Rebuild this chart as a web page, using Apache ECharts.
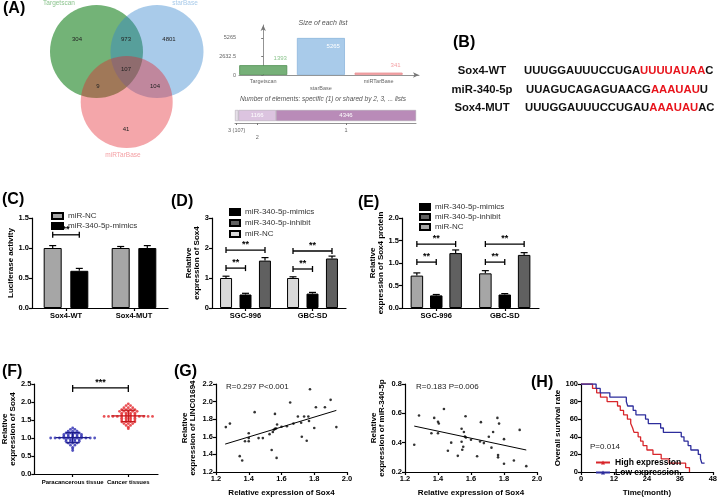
<!DOCTYPE html>
<html><head><meta charset="utf-8">
<script src="https://cdn.jsdelivr.net/npm/echarts@6/dist/echarts.min.js"></script>
<style>html,body{margin:0;padding:0;background:#fff}#c{width:720px;height:498px}</style>
</head><body><div id="c"></div>
<script>
// ================= DATA =================
// (A) Venn + list sizes
const vennSets = ['Targetscan', 'starBase', 'miRTarBase'];
const vennRegions = ['304', '973', '4801', '107', '9', '104', '41'];
const listSizes = [1393, 5265, 341];
const listTicks = [0, 2632.5, 5265];
const sharedLabels = ['3 (107)', '2', '1'];
const sharedCounts = [107, 1166, 4346];
// (B) sequences
const seqNames = ['Sox4-WT', 'miR-340-5p', 'Sox4-MUT'];
const seqHead = ['UUUGGAUUUCCUGA', 'UUAGUCAGAGUAACG', 'UUUGGAUUUCCUGAU'];
const seqSite = ['UUUUAUAA', 'AAAUAU', 'AAAUAU'];
const seqTail = ['C', 'U', 'AC'];
// (C) luciferase
const cCats = ['Sox4-WT', 'Sox4-MUT'];
const cNC = [1.00, 1.00], cNCerr = [0.04, 0.025];
const cMimic = [0.62, 1.00], cMimicErr = [0.04, 0.04];
const cBrackets = [[0, 0, 1, 1.22, '**']];
// (D) mRNA
const dCats = ['SGC-996', 'GBC-SD'];
const dNC = [1.00, 1.00], dNCerr = [0.06, 0.04];
const dMimic = [0.45, 0.48], dMimicErr = [0.04, 0.04];
const dInhibit = [1.58, 1.65], dInhibitErr = [0.10, 0.08];
const dBrackets = [[0, 0, 1, 1.33, '**'], [0, 0, 2, 1.93, '**'], [1, 0, 1, 1.30, '**'], [1, 0, 2, 1.90, '**']];
// (E) protein
const eNC = [0.72, 0.77], eNCerr = [0.06, 0.06];
const eMimic = [0.28, 0.30], eMimicErr = [0.02, 0.02];
const eInhibit = [1.22, 1.18], eInhibitErr = [0.07, 0.05];
const eBrackets = [[0, 0, 1, 1.02, '**'], [0, 0, 2, 1.42, '**'], [1, 0, 1, 1.02, '**'], [1, 0, 2, 1.42, '**']];
// (F) tissues
const fCats = ['Paracancerous tissue', 'Cancer tissues'];
const fPara = [1.28, 1.24, 1.24, 1.19, 1.19, 1.19, 1.14, 1.14, 1.14, 1.14, 1.10, 1.10, 1.10, 1.10, 1.10,
  1.05, 1.05, 1.05, 1.05, 1.05, 1.00, 1.00, 1.00, 1.00, 1.00, 1.00, 1.00, 1.00, 1.00, 1.00, 1.00,
  0.96, 0.96, 0.96, 0.96, 0.91, 0.91, 0.91, 0.91, 0.86, 0.86, 0.86, 0.80, 0.80, 0.74, 0.70, 0.65];
const fCancer = [1.95, 1.90, 1.90, 1.84, 1.84, 1.84, 1.79, 1.79, 1.79, 1.79, 1.74, 1.74, 1.74, 1.74, 1.74,
  1.69, 1.69, 1.69, 1.69, 1.64, 1.64, 1.64, 1.64, 1.60, 1.60, 1.60, 1.60, 1.60, 1.60, 1.60, 1.60, 1.60, 1.60, 1.60, 1.60,
  1.55, 1.55, 1.55, 1.55, 1.50, 1.50, 1.50, 1.50, 1.45, 1.45, 1.45, 1.45, 1.40, 1.40, 1.40, 1.35, 1.35, 1.30, 1.26];
const fBracket = [[0, 1, 2.39, '***']];
// (G) correlations
const g1Pts = [[1.26,1.71],[1.285,1.75],[1.345,1.38],[1.36,1.33],[1.377,1.55],[1.40,1.55],[1.40,1.585],[1.40,1.64],
  [1.436,1.88],[1.46,1.585],[1.486,1.585],[1.527,1.63],[1.54,1.45],[1.547,1.655],[1.553,1.68],[1.56,1.69],[1.56,1.86],
  [1.567,1.695],[1.57,1.36],[1.573,1.74],[1.60,1.715],[1.633,1.72],[1.653,1.99],[1.673,1.75],[1.70,1.83],[1.72,1.76],
  [1.724,1.60],[1.738,1.83],[1.754,1.555],[1.764,1.83],[1.768,1.78],[1.774,2.14],[1.80,1.70],[1.81,1.935],[1.865,1.935],
  [1.90,2.02],[1.935,1.71]];
const g1Fit = [[1.256, 1.517], [1.935, 1.90]];
const g2Pts = [[1.256,0.386],[1.285,0.585],[1.377,0.569],[1.36,0.464],[1.40,0.543],[1.405,0.531],[1.40,0.464],[1.436,0.63],
  [1.48,0.40],[1.46,0.345],[1.52,0.31],[1.543,0.495],[1.543,0.406],[1.547,0.352],[1.553,0.372],[1.557,0.473],[1.567,0.58],
  [1.563,0.442],[1.569,0.435],[1.60,0.42],[1.637,0.307],[1.655,0.408],[1.66,0.54],[1.678,0.397],[1.708,0.44],[1.724,0.366],
  [1.734,0.473],[1.76,0.569],[1.77,0.53],[1.764,0.316],[1.764,0.30],[1.80,0.424],[1.80,0.256],[1.86,0.278],[1.895,0.487],[1.935,0.24]];
const g2Fit = [[1.256, 0.513], [1.935, 0.35]];
// (H) survival
const hHigh = [[0,100],[4.2,95],[5.7,90],[7.1,85],[9.5,80],[13.3,75],[14.3,70],[15.5,65],[16.9,60],[18.1,55],[18.8,50],
  [19.3,45],[20.8,40],[21.7,35],[22.6,30],[24,25],[26.2,20],[29.2,15],[32.1,10],[38.1,5],[39.5,0]];
const hLow = [[0,100],[5.5,95],[7,90],[10.5,85],[16.5,80],[17,75],[19,70],[20,65],[23.5,60],[24.5,55],[29,50],[30,45],
  [36.5,40],[37.5,35],[39,30],[40,25],[42.7,20],[43.5,15],[44,10],[45,10]];

// ================= STYLE / LAYOUT =================
const FONT = '"Liberation Sans", Arial, sans-serif';
const BLACK = '#000';
const lab = (o) => Object.assign({color: BLACK, fontSize: 7.5, fontWeight: 'bold', fontFamily: FONT, margin: 3}, o || {});
const axLine = {show: true, lineStyle: {color: BLACK, width: 1.2}};
const axTick = {show: true, length: 3, lineStyle: {color: BLACK, width: 1.2}};
const fmt1 = v => Number(v).toFixed(1);
const strip = n => n.replace(/\u200b/g, '');

const grids = [
  {left: 0, top: 0, width: 210, height: 160},      // 0 venn
  {left: 239, top: 25, width: 180, height: 50},    // 1 list sizes
  {left: 235, top: 110, width: 181, height: 11},   // 2 shared
  {left: 32, top: 218, width: 136, height: 90},    // 3 C
  {left: 212, top: 218, width: 134, height: 90},   // 4 D
  {left: 402, top: 218, width: 137, height: 90},   // 5 E
  {left: 32, top: 384, width: 126, height: 90},    // 6 F
  {left: 216, top: 384, width: 131, height: 89},   // 7 G1
  {left: 405, top: 384, width: 132, height: 89},   // 8 G2
  {left: 581, top: 384, width: 135, height: 90}    // 9 H
];

function valY(gi, min, max, interval, formatter, name, gap) {
  return {type: 'value', gridIndex: gi, min, max, interval, axisLine: axLine, axisTick: axTick,
    splitLine: {show: false}, axisLabel: lab({formatter}),
    name, nameLocation: 'middle', nameRotate: 90, nameGap: gap,
    nameTextStyle: {color: BLACK, fontSize: 8, fontWeight: 'bold', fontFamily: FONT, lineHeight: 8}};
}
function catX(gi, cats) {
  return {type: 'category', gridIndex: gi, data: cats, axisLine: axLine,
    axisTick: {show: true, length: 3, alignWithLabel: true, lineStyle: {color: BLACK, width: 1.2}},
    axisLabel: lab({margin: 4})};
}

// --- custom render helpers
function errSeries(xi, means, errs, offset) {
  return {type: 'custom', xAxisIndex: xi, yAxisIndex: xi, z: 5, silent: true,
    data: means.map((m, i) => [i, m, errs[i]]),
    renderItem: (p, api) => {
      const c = api.value(0), m = api.value(1), e = api.value(2);
      const p0 = api.coord([c, m]), p1 = api.coord([c, m + e]);
      const x = p0[0] + offset, cw = 3.5;
      return {type: 'group', children: [
        {type: 'line', shape: {x1: x, y1: p0[1], x2: x, y2: p1[1]}, style: {stroke: BLACK, lineWidth: 1.2}},
        {type: 'line', shape: {x1: x - cw, y1: p1[1], x2: x + cw, y2: p1[1]}, style: {stroke: BLACK, lineWidth: 1.2}}
      ]};
    }};
}
function bracketSeries(xi, items, pitch, nBars) {
  return {type: 'custom', xAxisIndex: xi, yAxisIndex: xi, z: 6, silent: true,
    data: items.map(b => [b[0], b[3], b[1], b[2]]),
    renderItem: (p, api) => {
      const c = api.value(0), y = api.value(1), a = api.value(2), b = api.value(3);
      const pt = api.coord([c, y]);
      const xa = pt[0] + (a - (nBars - 1) / 2) * pitch, xb = pt[0] + (b - (nBars - 1) / 2) * pitch;
      const st = {stroke: BLACK, lineWidth: 1.3};
      return {type: 'group', children: [
        {type: 'line', shape: {x1: xa, y1: pt[1], x2: xb, y2: pt[1]}, style: st},
        {type: 'line', shape: {x1: xa, y1: pt[1] - 3, x2: xa, y2: pt[1] + 3}, style: st},
        {type: 'line', shape: {x1: xb, y1: pt[1] - 3, x2: xb, y2: pt[1] + 3}, style: st},
        {type: 'text', x: (xa + xb) / 2, y: pt[1] - 1, style: {text: items[p.dataIndex][4], align: 'center', verticalAlign: 'bottom',
          fill: BLACK, font: 'bold 9px ' + FONT}}
      ]};
    }};
}
function barS(xi, name, data, color, bw, gapPct) {
  return {type: 'bar', name, xAxisIndex: xi, yAxisIndex: xi, data, barWidth: bw, barGap: gapPct,
    itemStyle: {color, borderColor: BLACK, borderWidth: 1}};
}

// ---- Venn layout (hidden px-like axes)
const vennCircles = [[96.5, 51.5, 46.5], [157, 51.5, 46.5], [126.7, 102, 46]];
const vennFills = ['rgb(115,179,119)', 'rgba(50,131,205,0.42)', 'rgba(228,33,43,0.40)'];
const vennNamePos = [[59, 3], [185, 3], [123, 155]];
const vennNameColors = ['#8cc48e', '#a9cbea', '#f4a0a4'];
const vennNumPos = [[77, 39], [126, 39], [169, 39], [126, 69], [98, 86], [155, 86], [126, 129]];

// ---- F beeswarm offsets (layout)
const fPos = [0.31, 0.76];
function swarm(vals, pos) {
  const counts = {}, seen = {};
  vals.forEach(v => counts[v] = (counts[v] || 0) + 1);
  return vals.map(v => {
    const k = seen[v] = (seen[v] || 0) + 1;
    const dx = (k - 1 - (counts[v] - 1) / 2) * 4.4;
    return {value: [pos, v], symbolOffset: [dx, 0]};
  });
}
const mean = a => a.reduce((s, v) => s + v, 0) / a.length;
const sd = a => { const m = mean(a); return Math.sqrt(a.reduce((s, v) => s + (v - m) * (v - m), 0) / (a.length - 1)); };

// ---- shared stacked layout
const sharedTotal = sharedCounts.reduce((a, b) => a + b, 0);
const sharedCenters = sharedCounts.map((c, i) => sharedCounts.slice(0, i).reduce((a, b) => a + b, 0) + c / 2);
const sharedColors = ['#e6dfe9', '#dcc4e0', '#b98bb8'];

const NC2 = 'miR-NC\u200b', NC3 = 'miR-NC\u200b\u200b';
const MI2 = 'miR-340-5p-mimics\u200b', MI3 = 'miR-340-5p-mimics\u200b\u200b';
const IN2 = 'miR-340-5p-inhibit', IN3 = 'miR-340-5p-inhibit\u200b';

const xAxes = [
  {type: 'value', gridIndex: 0, min: 0, max: 210, show: false},
  {type: 'value', gridIndex: 1, min: -0.42, max: 2.7, splitLine: {show: false},
    axisLine: {show: true, symbol: ['none', 'arrow'], symbolSize: [4, 6], lineStyle: {color: '#777', width: 0.8}},
    axisTick: {show: false}, axisLabel: {customValues: [0, 1, 2], formatter: v => (Math.round(v) === 1 ? '\n' : '') + vennSets[Math.round(v)],
      color: '#666', fontSize: 5.5, fontFamily: FONT, margin: 3, lineHeight: 7}},
  {type: 'value', gridIndex: 2, min: 0, max: sharedTotal, offset: 2, splitLine: {show: false},
    axisLine: {show: true, lineStyle: {color: '#777', width: 0.8}},
    axisTick: {show: true, customValues: sharedCenters, length: 2, lineStyle: {color: '#777'}},
    axisLabel: {customValues: sharedCenters, formatter: v => { const i = sharedCenters.findIndex(c => Math.abs(c - v) < 1); return (i === 1 ? '\n' : '') + sharedLabels[i]; },
      color: '#666', fontSize: 5.5, fontFamily: FONT, margin: 4, lineHeight: 7}},
  catX(3, cCats), catX(4, dCats), catX(5, dCats),
  {type: 'value', gridIndex: 6, min: 0, max: 1, splitLine: {show: false}, axisLine: axLine,
    axisTick: {show: true, customValues: fPos, length: 3, lineStyle: {color: BLACK, width: 1.2}},
    axisLabel: lab({customValues: fPos, fontSize: 6, margin: 5, formatter: v => fCats[Math.abs(v - fPos[0]) < 0.01 ? 0 : 1]})},
  {type: 'value', gridIndex: 7, min: 1.2, max: 2.0, interval: 0.2, splitLine: {show: false}, axisLine: axLine, axisTick: axTick,
    axisLabel: lab({formatter: fmt1}), name: 'Relative expression of Sox4', nameLocation: 'middle', nameGap: 17,
    nameTextStyle: {color: BLACK, fontSize: 8, fontWeight: 'bold', fontFamily: FONT}},
  {type: 'value', gridIndex: 8, min: 1.2, max: 2.0, interval: 0.2, splitLine: {show: false}, axisLine: axLine, axisTick: axTick,
    axisLabel: lab({formatter: fmt1}), name: 'Relative expression of Sox4', nameLocation: 'middle', nameGap: 17,
    nameTextStyle: {color: BLACK, fontSize: 8, fontWeight: 'bold', fontFamily: FONT}},
  {type: 'value', gridIndex: 9, min: 0, max: 48, interval: 12, splitLine: {show: false}, axisLine: axLine, axisTick: axTick,
    axisLabel: lab(), name: 'Time(month)', nameLocation: 'middle', nameGap: 17,
    nameTextStyle: {color: BLACK, fontSize: 8, fontWeight: 'bold', fontFamily: FONT}}
];
const yAxes = [
  {type: 'value', gridIndex: 0, min: 0, max: 160, inverse: true, show: false},
  {type: 'value', gridIndex: 1, min: 0, max: Math.max(...listSizes) * 1.35, splitLine: {show: false},
    axisLine: {show: true, symbol: ['none', 'arrow'], symbolSize: [4, 6], lineStyle: {color: '#777', width: 0.8}},
    axisTick: {show: true, customValues: listTicks, length: 2, lineStyle: {color: '#777'}},
    axisLabel: {customValues: listTicks, formatter: v => String(v), color: '#666', fontSize: 5.5, fontFamily: FONT, margin: 3}},
  {type: 'category', gridIndex: 2, data: ['n'], show: false},
  valY(3, 0, 1.5, 0.5, fmt1, 'Luciferase activity', 14),
  valY(4, 0, 3, 1, v => String(v), 'Relative\nexpression of Sox4', 9),
  valY(5, 0, 2, 0.5, fmt1, 'Relative\nexpression of Sox4 protein', 15),
  valY(6, 0, 2.5, 0.5, fmt1, 'Relative\nexpression of Sox4', 15),
  valY(7, 1.2, 2.2, 0.2, fmt1, 'Relative\nexpression of LINC01694', 19),
  valY(8, 0.2, 0.8, 0.2, fmt1, 'Relative\nexpression of miR-340-5p', 19),
  valY(9, 0, 100, 20, v => String(v), 'Overall survival rate', 18)
];

const series = [
  // Venn circles + names
  {type: 'custom', xAxisIndex: 0, yAxisIndex: 0, silent: true, data: vennSets.map((s, i) => [i, 0]),
    renderItem: (p, api) => {
      const i = p.dataIndex, c = vennCircles[i];
      const ctr = api.coord([c[0], c[1]]), r = api.size([c[2], 0])[0];
      const np = api.coord(vennNamePos[i]);
      return {type: 'group', children: [
        {type: 'circle', shape: {cx: ctr[0], cy: ctr[1], r}, style: {fill: vennFills[i]}},
        {type: 'text', x: np[0], y: np[1], z2: 10, style: {text: vennSets[i], align: 'center', verticalAlign: 'middle', fill: vennNameColors[i], font: '6.5px ' + FONT}}
      ]};
    }},
  {type: 'custom', xAxisIndex: 0, yAxisIndex: 0, silent: true, z: 3, data: vennRegions.map((s, i) => [i, 0]),
    renderItem: (p, api) => {
      const pt = api.coord(vennNumPos[p.dataIndex]);
      return {type: 'text', x: pt[0], y: pt[1], style: {text: vennRegions[p.dataIndex], align: 'center', verticalAlign: 'middle', fill: '#222', font: '6px ' + FONT}};
    }},
  // list sizes
  {type: 'bar', xAxisIndex: 1, yAxisIndex: 1, barWidth: 48,
    data: listSizes.map((v, i) => ({value: [i, v],
      itemStyle: {color: ['#76b078', '#a9cbea', '#f4a6a8'][i], borderColor: ['#4f8f52', '#8db6dd', '#e88f93'][i], borderWidth: 0.8},
      label: {show: true, position: i === 1 ? 'insideTopRight' : 'top', offset: i === 1 ? [0, 0] : [17, 1],
        color: ['#8cc48e', '#ffffff', '#f4a0a4'][i], fontSize: 6, fontFamily: FONT, formatter: String(v)}}))},
  // shared stacked
  ...sharedCounts.map((c, i) => ({type: 'bar', xAxisIndex: 2, yAxisIndex: 2, stack: 'sh', barWidth: 11, data: [c],
    itemStyle: {color: sharedColors[i], borderColor: '#a9a0ad', borderWidth: 0.5},
    label: {show: i > 0, position: 'inside', color: '#fff', fontSize: 6, fontFamily: FONT, formatter: String(c)}})),
  // C
  barS(3, 'miR-NC', cNC, '#a6a6a6', 18, '48%'),
  barS(3, 'miR-340-5p-mimics', cMimic, '#000', 18, '48%'),
  errSeries(3, cNC, cNCerr, -13.3), errSeries(3, cMimic, cMimicErr, 13.3),
  bracketSeries(3, cBrackets, 26.6, 2),
  // D
  barS(4, NC2, dNC, '#d9d9d9', 12, '62%'),
  barS(4, MI2, dMimic, '#000', 12, '62%'),
  barS(4, IN2, dInhibit, '#606060', 12, '62%'),
  errSeries(4, dNC, dNCerr, -19.5), errSeries(4, dMimic, dMimicErr, 0), errSeries(4, dInhibit, dInhibitErr, 19.5),
  bracketSeries(4, dBrackets, 19.5, 3),
  // E
  barS(5, NC3, eNC, '#a6a6a6', 12.5, '55%'),
  barS(5, MI3, eMimic, '#000', 12.5, '55%'),
  barS(5, IN3, eInhibit, '#606060', 12.5, '55%'),
  errSeries(5, eNC, eNCerr, -19.4), errSeries(5, eMimic, eMimicErr, 0), errSeries(5, eInhibit, eInhibitErr, 19.4),
  bracketSeries(5, eBrackets, 19.4, 3),
  // F
  {type: 'scatter', xAxisIndex: 6, yAxisIndex: 6, symbolSize: 2.8, itemStyle: {color: '#2a2ab0'}, data: swarm(fPara, fPos[0])},
  {type: 'scatter', xAxisIndex: 6, yAxisIndex: 6, symbolSize: 2.8, itemStyle: {color: '#e3262a'}, data: swarm(fCancer, fPos[1])},
  {type: 'custom', xAxisIndex: 6, yAxisIndex: 6, z: 4, silent: true,
    data: [[fPos[0], mean(fPara), sd(fPara)], [fPos[1], mean(fCancer), sd(fCancer)]],
    renderItem: (p, api) => {
      const x = api.value(0), m = api.value(1), s = api.value(2);
      const pm = api.coord([x, m]), pt = api.coord([x, m + s]), pb = api.coord([x, m - s]);
      const st = {stroke: p.dataIndex === 0 ? '#1c1c8a' : '#c41a1e', lineWidth: 1.3};
      return {type: 'group', children: [
        {type: 'line', shape: {x1: pm[0] - 17, y1: pm[1], x2: pm[0] + 17, y2: pm[1]}, style: st},
        {type: 'line', shape: {x1: pm[0], y1: pt[1], x2: pm[0], y2: pb[1]}, style: st},
        {type: 'line', shape: {x1: pm[0] - 7, y1: pt[1], x2: pm[0] + 7, y2: pt[1]}, style: st},
        {type: 'line', shape: {x1: pm[0] - 7, y1: pb[1], x2: pm[0] + 7, y2: pb[1]}, style: st}
      ]};
    }},
  {type: 'custom', xAxisIndex: 6, yAxisIndex: 6, z: 6, silent: true, data: fBracket.map(b => [b[0], b[2], b[1]]),
    renderItem: (p, api) => {
      const a = api.coord([fPos[api.value(0)], api.value(1)]), b = api.coord([fPos[api.value(2)], api.value(1)]);
      const st = {stroke: BLACK, lineWidth: 1.3};
      return {type: 'group', children: [
        {type: 'line', shape: {x1: a[0], y1: a[1], x2: b[0], y2: b[1]}, style: st},
        {type: 'line', shape: {x1: a[0], y1: a[1] - 3, x2: a[0], y2: a[1] + 4}, style: st},
        {type: 'line', shape: {x1: b[0], y1: b[1] - 3, x2: b[0], y2: b[1] + 4}, style: st},
        {type: 'text', x: (a[0] + b[0]) / 2, y: a[1] - 1, style: {text: fBracket[p.dataIndex][3], align: 'center', verticalAlign: 'bottom', fill: BLACK, font: 'bold 9px ' + FONT}}
      ]};
    }},
  // G
  {type: 'scatter', xAxisIndex: 7, yAxisIndex: 7, symbolSize: 2.6, itemStyle: {color: '#000'}, data: g1Pts},
  {type: 'line', xAxisIndex: 7, yAxisIndex: 7, showSymbol: false, lineStyle: {color: '#000', width: 1}, data: g1Fit},
  {type: 'scatter', xAxisIndex: 8, yAxisIndex: 8, symbolSize: 2.6, itemStyle: {color: '#000'}, data: g2Pts},
  {type: 'line', xAxisIndex: 8, yAxisIndex: 8, showSymbol: false, lineStyle: {color: '#000', width: 1}, data: g2Fit},
  // H
  {type: 'line', name: 'High expression', xAxisIndex: 9, yAxisIndex: 9, step: 'end', showSymbol: false, symbol: 'triangle', symbolSize: 4,
    itemStyle: {color: '#d8262b'}, lineStyle: {color: '#d8262b', width: 1.3}, data: hHigh},
  {type: 'line', name: 'Low expression', xAxisIndex: 9, yAxisIndex: 9, step: 'end', showSymbol: false, symbol: 'triangle', symbolSize: 4,
    itemStyle: {color: '#2d2d9c'}, lineStyle: {color: '#2d2d9c', width: 1.3}, data: hLow}
];

const legTxt = {color: '#333', fontSize: 8, fontFamily: FONT};
const legends = [
  {data: ['miR-NC', 'miR-340-5p-mimics'], left: 46, top: 207, orient: 'vertical', icon: 'rect', itemWidth: 11, itemHeight: 6, itemGap: 2, textStyle: legTxt, selectedMode: false, formatter: strip},
  {data: [MI2, IN2, NC2], left: 224, top: 203, orient: 'vertical', icon: 'rect', itemWidth: 10, itemHeight: 6, itemGap: 3, textStyle: legTxt, selectedMode: false, formatter: strip},
  {data: [MI3, IN3, NC3], left: 414, top: 198, orient: 'vertical', icon: 'rect', itemWidth: 10, itemHeight: 6, itemGap: 2, textStyle: legTxt, selectedMode: false, formatter: strip},
  {data: ['High expression', 'Low expression'], left: 590, top: 453, orient: 'vertical', itemWidth: 14, itemHeight: 5, itemGap: 1,
    textStyle: {color: BLACK, fontSize: 8.5, fontWeight: 'bold', fontFamily: FONT}, selectedMode: false}
];

// ---- texts
const T = (x, y, text, font, fill, align) => ({type: 'text', x, y, silent: true,
  style: {text, font, fill: fill || BLACK, align: align || 'left', verticalAlign: 'middle'}});
const LET = 'bold 16px ' + FONT;
const SEQF = 'bold 11.3px ' + FONT;
const graphic = [
  T(3, 9, '(A)', LET), T(453, 43, '(B)', LET), T(2, 200, '(C)', LET), T(171, 202, '(D)', LET),
  T(358, 203, '(E)', LET), T(2, 372, '(F)', LET), T(174, 372, '(G)', LET), T(531, 383, '(H)', LET),
  T(323, 23, 'Size of each list', 'italic 7px ' + FONT, '#555', 'center'),
  T(323, 99, 'Number of elements: specific (1) or shared by 2, 3, ... lists', 'italic 6.5px ' + FONT, '#555', 'center'),
  T(226, 387, 'R=0.297 P<0.001', '8px ' + FONT, '#222'),
  T(416, 387, 'R=0.183 P=0.006', '8px ' + FONT, '#222'),
  T(590, 447, 'P=0.014', '8px ' + FONT, '#222')
];
const seqY = [71, 90, 108], seqX = [524, 526, 525];
seqNames.forEach((n, i) => {
  graphic.push(T(482, seqY[i], n, SEQF, '#111', 'center'));
  graphic.push({type: 'text', x: seqX[i], y: seqY[i], silent: true,
    style: {text: '{k|' + seqHead[i] + '}{r|' + seqSite[i] + '}{k|' + seqTail[i] + '}', verticalAlign: 'middle', align: 'left',
      font: SEQF,
      rich: {k: {fill: '#111', color: '#111', fontSize: 11.3, fontWeight: 'bold', fontFamily: FONT},
             r: {fill: '#e8141c', color: '#e8141c', fontSize: 11.3, fontWeight: 'bold', fontFamily: FONT}}}});
});

const chart = echarts.init(document.getElementById('c'), null, {renderer: 'canvas'});
chart.setOption({
  animation: false,
  textStyle: {fontFamily: FONT},
  grid: grids, xAxis: xAxes, yAxis: yAxes, series, legend: legends, graphic
});
</script></body></html>
